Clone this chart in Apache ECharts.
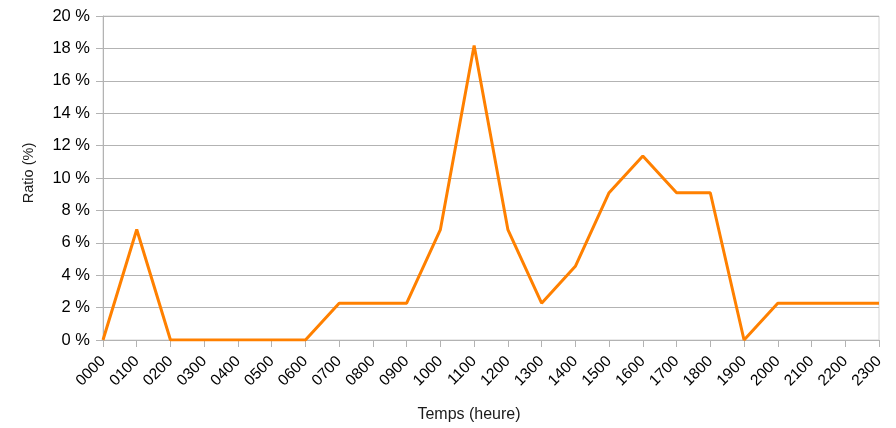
<!DOCTYPE html>
<html>
<head>
<meta charset="utf-8">
<script src="https://cdn.jsdelivr.net/npm/echarts@6/dist/echarts.min.js"></script>
<style>html,body{margin:0;padding:0;background:#fff}#c{width:896px;height:428px}</style>
</head>
<body>
<div id="c"></div>
<script>
const categories = ["0000","0100","0200","0300","0400","0500","0600","0700","0800","0900","1000","1100","1200","1300","1400","1500","1600","1700","1800","1900","2000","2100","2200","2300"];
const ratioValues = [0, 6.82, 0, 0, 0, 0, 0, 2.27, 2.27, 2.27, 6.82, 18.18, 6.82, 2.27, 4.55, 9.09, 11.36, 9.09, 9.09, 0, 2.27, 2.27, 2.27, 2.27];
const yTicks = { min: 0, max: 20, interval: 2 };
const xTitle = "Temps (heure)";
const yTitle = "Ratio (%)";

const chart = echarts.init(document.getElementById('c'), null, { renderer: 'canvas' });
const font = 'Liberation Sans, Arial, sans-serif';
chart.setOption({
  animation: false,
  backgroundColor: '#ffffff',
  grid: { left: 103, right: 17, top: 16, bottom: 88, outerBoundsMode: 'none', containLabel: false, show: true, borderColor: '#d4d4d4', borderWidth: 1 },
  xAxis: {
    type: 'category',
    data: categories,
    boundaryGap: false,
    name: xTitle,
    nameLocation: 'middle',
    nameGap: 67,
    nameTextStyle: { fontFamily: font, fontSize: 16, color: '#1a1a1a', padding: [0, 44, 0, 0] },
    axisLine: { lineStyle: { color: '#b3b3b3', width: 1 } },
    axisTick: { show: true, length: 7, alignWithLabel: true, lineStyle: { color: '#b3b3b3' } },
    axisLabel: { rotate: 45, interval: 0, margin: 19, fontFamily: font, fontSize: 15.5, color: '#000' },
    splitLine: { show: false }
  },
  yAxis: {
    type: 'value',
    min: yTicks.min, max: yTicks.max, interval: yTicks.interval,
    name: yTitle,
    nameLocation: 'middle',
    nameGap: 67,
    nameTextStyle: { fontFamily: font, fontSize: 14.5, color: '#1a1a1a', padding: [0, 0, 0, 10] },
    axisLine: { show: true, lineStyle: { color: '#b3b3b3', width: 1 } },
    axisTick: { show: true, length: 7, lineStyle: { color: '#b3b3b3' } },
    axisLabel: { margin: 13, fontFamily: font, fontSize: 16.5, color: '#000', formatter: v => v + ' %' },
    splitLine: { show: true, lineStyle: { color: '#b3b3b3', width: 1 } }
  },
  series: [{
    type: 'line',
    data: ratioValues,
    symbol: 'none',
    lineStyle: { color: '#ff8000', width: 3 },
    itemStyle: { color: '#ff8000' }
  }]
});
</script>
</body>
</html>
